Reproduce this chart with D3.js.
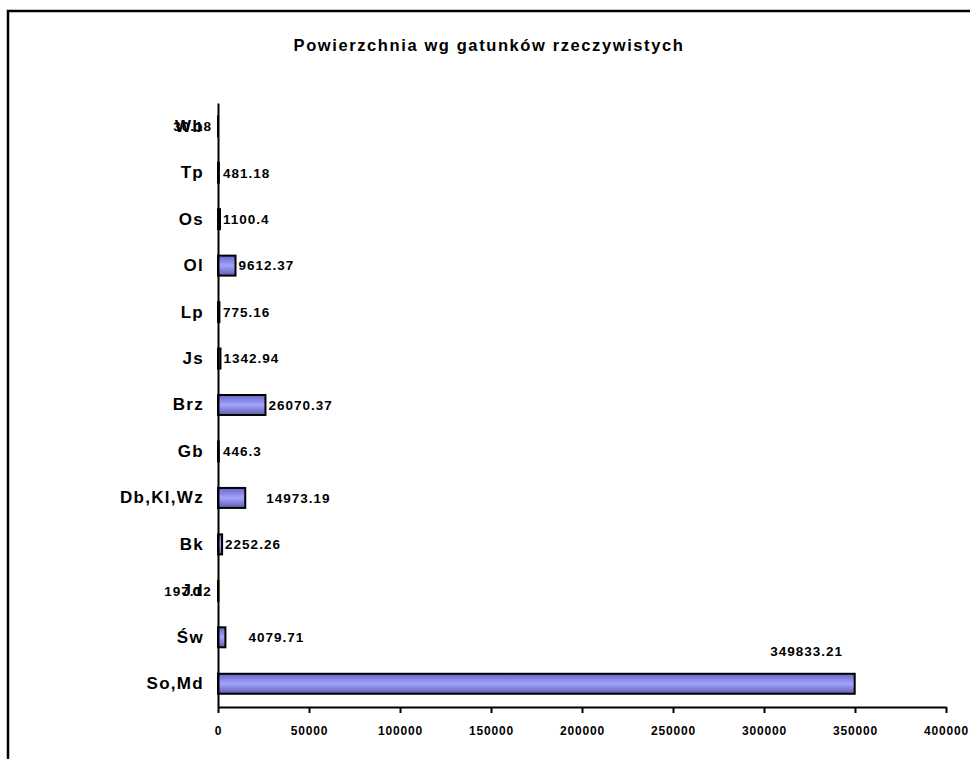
<!DOCTYPE html>
<html>
<head>
<meta charset="utf-8">
<script src="https://cdn.jsdelivr.net/npm/d3@7"></script>
<style>
  body { margin: 0; background: #fff; }
  svg { display: block; font-family: "Liberation Sans", Arial, sans-serif; }
</style>
</head>
<body>
<script>
// categories top to bottom, as in the picture
const species = ["Wb", "Tp", "Os", "Ol", "Lp", "Js", "Brz", "Gb", "Db,Kl,Wz", "Bk", "Jd", "Św", "So,Md"];
const areas = [30.18, 481.18, 1100.4, 9612.37, 775.16, 1342.94, 26070.37, 446.3, 14973.19, 2252.26, 197.12, 4079.71, 349833.21];
const xTicks = [0, 50000, 100000, 150000, 200000, 250000, 300000, 350000, 400000];
const chartTitle = "Powierzchnia wg gatunków rzeczywistych";

const width = 970, height = 759;
const plotLeft = 218, plotRight = 946, plotTop = 103, plotBottom = 707;

const svg = d3.select("body").append("svg")
  .attr("width", width)
  .attr("height", height);

const grad = svg.append("defs").append("linearGradient")
  .attr("id", "barGrad")
  .attr("x1", 0).attr("y1", 0).attr("x2", 0).attr("y2", 1);
grad.append("stop").attr("offset", "0%").attr("stop-color", "#6666c4");
grad.append("stop").attr("offset", "50%").attr("stop-color", "#a4a4ff");
grad.append("stop").attr("offset", "100%").attr("stop-color", "#5c5cb0");

// outer frame, cut by the window on the right and bottom
svg.append("rect")
  .attr("x", 8).attr("y", 11)
  .attr("width", 1000).attr("height", 1000)
  .attr("fill", "none")
  .attr("stroke", "#000")
  .attr("stroke-width", 2.5);

svg.append("text")
  .attr("x", 489).attr("y", 51)
  .attr("text-anchor", "middle")
  .style("font-size", "16.5px")
  .style("font-weight", "bold")
  .style("letter-spacing", "1.6px")
  .text(chartTitle);

const x = d3.scaleLinear().domain([0, 400000]).range([plotLeft, plotRight]);
const y = d3.scaleBand().domain(species).range([plotTop, plotBottom]).paddingInner(0.57).paddingOuter(0.285);

const data = species.map((s, i) => ({ name: s, value: areas[i] }));

svg.selectAll("rect.bar")
  .data(data)
  .enter()
  .append("rect")
  .attr("class", "bar")
  .attr("x", x(0))
  .attr("y", d => y(d.name))
  .attr("width", d => x(d.value) - x(0))
  .attr("height", y.bandwidth())
  .attr("fill", "url(#barGrad)")
  .attr("stroke", "#000")
  .attr("stroke-width", 2);

// x axis
const xAxis = d3.axisBottom(x).tickValues(xTicks).tickSize(6).tickSizeOuter(0).tickFormat(d3.format("d"));
const gx = svg.append("g")
  .attr("transform", `translate(0,${plotBottom})`)
  .call(xAxis);
gx.select(".domain").attr("stroke", "#000").attr("stroke-width", 2);
gx.selectAll(".tick line").attr("stroke", "#000").attr("stroke-width", 2);
gx.selectAll(".tick text")
  .attr("y", 19)
  .style("font-size", "12px")
  .style("font-weight", "bold")
  .style("letter-spacing", "0.8px")
  .style("font-family", "'Liberation Sans', Arial, sans-serif")
  .attr("fill", "#000");

// y axis (no tick marks)
const yAxis = d3.axisLeft(y).tickSize(0).tickPadding(14);
const gy = svg.append("g")
  .attr("transform", `translate(${plotLeft},0)`)
  .call(yAxis);
gy.select(".domain").attr("stroke", "#000").attr("stroke-width", 2);
gy.selectAll(".tick text")
  .style("font-size", "17px")
  .style("font-weight", "bold")
  .style("letter-spacing", "1.3px")
  .style("font-family", "'Liberation Sans', Arial, sans-serif")
  .attr("fill", "#000");

// value labels; a few sit where the spreadsheet dropped them
const labelShift = {
  "Wb": { anchor: "end", dx: -8 - (x(30.18) - x(0)), dy: 0 },
  "Jd": { anchor: "end", dx: -8 - (x(197.12) - x(0)), dy: 0 },
  "Db,Kl,Wz": { anchor: "start", dx: 21, dy: 0 },
  "Św": { anchor: "start", dx: 23, dy: 0 },
  "So,Md": { anchor: "middle", dx: -48, dy: -33 }
};

svg.selectAll("text.value")
  .data(data)
  .enter()
  .append("text")
  .attr("class", "value")
  .attr("x", d => {
    const s = labelShift[d.name];
    return Math.max(x(d.value), x(0) + 2) + (s ? s.dx : 3);
  })
  .attr("y", d => y(d.name) + y.bandwidth() / 2 + (labelShift[d.name] ? labelShift[d.name].dy : 0))
  .attr("dy", "0.36em")
  .attr("text-anchor", d => labelShift[d.name] ? labelShift[d.name].anchor : "start")
  .style("font-size", "13.5px")
  .style("font-weight", "bold")
  .style("letter-spacing", "1px")
  .text(d => String(d.value));
</script>
</body>
</html>
